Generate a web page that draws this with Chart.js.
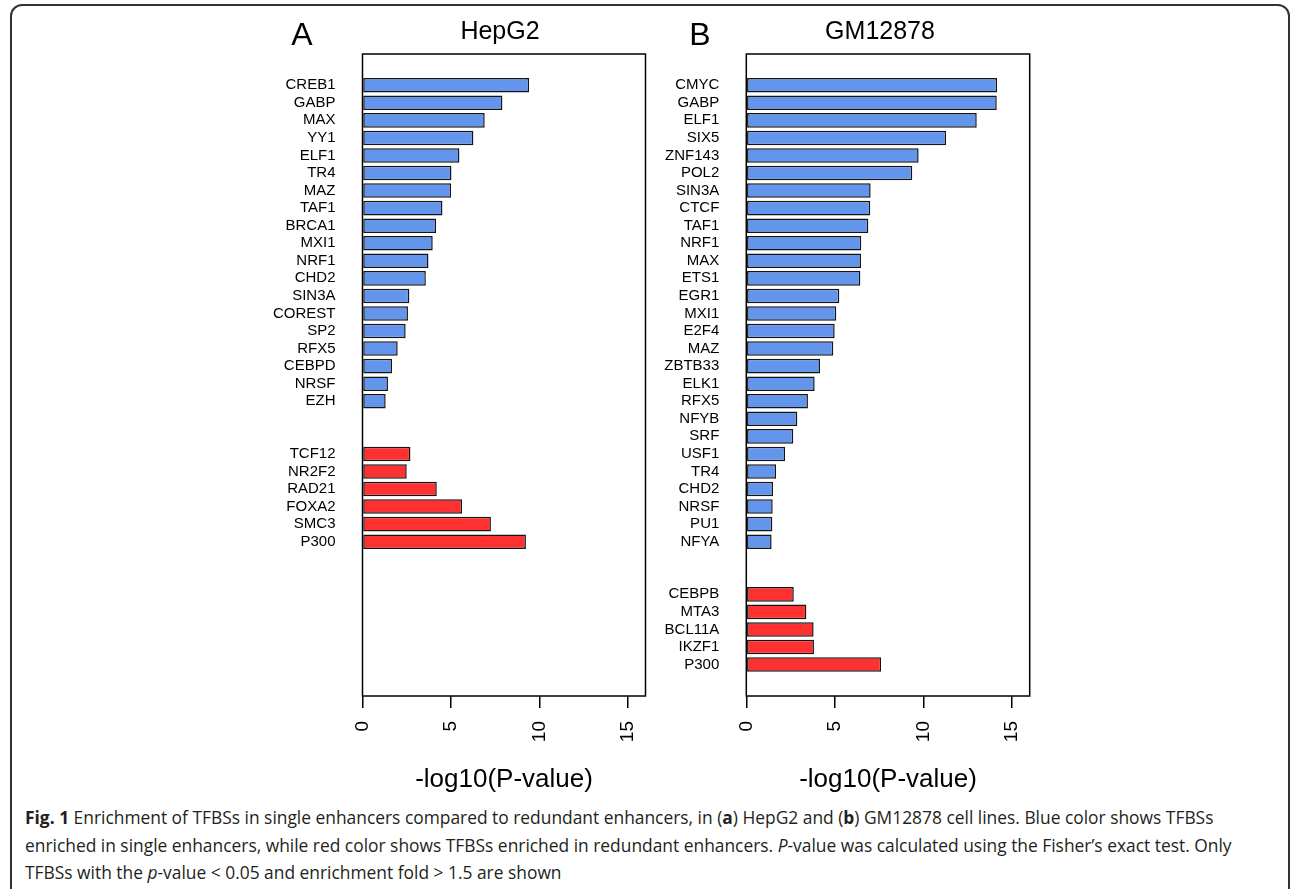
<!DOCTYPE html>
<html>
<head>
<meta charset="utf-8">
<script src="https://cdn.jsdelivr.net/npm/chart.js@4.4.1/dist/chart.umd.min.js"></script>
<style>
  body { margin: 0; background: #fff; width: 1290px; height: 889px; overflow: hidden; position: relative; }
  #frame { position: absolute; left: 10px; top: 4px; width: 1280px; height: 1000px; border: 2px solid #333; border-radius: 12px; box-sizing: border-box; }
  canvas { position: absolute; top: 0; }
  #cA { left: 200px; }
  #cB { left: 600px; }
  #caption { position: absolute; left: 25px; top: 804px; font-family: "Open Sans", sans-serif; font-size: 18px; line-height: 27.5px; color: #231f20; }
  #caption span.line { display: block; white-space: nowrap; transform-origin: 0 50%; }
</style>
</head>
<body>
<div id="frame"></div>
<canvas id="cA" width="460" height="800"></canvas>
<canvas id="cB" width="460" height="800"></canvas>
<div id="caption">
  <span class="line"><b>Fig. 1</b> Enrichment of TFBSs in single enhancers compared to redundant enhancers, in (<b>a</b>) HepG2 and (<b>b</b>) GM12878 cell lines. Blue color shows TFBSs</span>
  <span class="line">enriched in single enhancers, while red color shows TFBSs enriched in redundant enhancers. <i>P</i>-value was calculated using the Fisher’s exact test. Only</span>
  <span class="line">TFBSs with the <i>p</i>-value &lt; 0.05 and enrichment fold &gt; 1.5 are shown</span>
</div>
<script>
// HepG2 (panel A)
var hepg2SingleTF = ['CREB1', 'GABP', 'MAX', 'YY1', 'ELF1', 'TR4', 'MAZ', 'TAF1', 'BRCA1', 'MXI1',
  'NRF1', 'CHD2', 'SIN3A', 'COREST', 'SP2', 'RFX5', 'CEBPD', 'NRSF', 'EZH'];
var hepg2SingleP = [9.42, 7.91, 6.91, 6.27, 5.48, 5.03, 5.01, 4.52, 4.16, 3.97,
  3.73, 3.58, 2.65, 2.57, 2.44, 1.99, 1.67, 1.44, 1.31];
var hepg2RedundantTF = ['TCF12', 'NR2F2', 'RAD21', 'FOXA2', 'SMC3', 'P300'];
var hepg2RedundantP = [2.71, 2.50, 4.20, 5.63, 7.26, 9.24];

// GM12878 (panel B)
var gmSingleTF = ['CMYC', 'GABP', 'ELF1', 'SIX5', 'ZNF143', 'POL2', 'SIN3A', 'CTCF', 'TAF1', 'NRF1',
  'MAX', 'ETS1', 'EGR1', 'MXI1', 'E2F4', 'MAZ', 'ZBTB33', 'ELK1', 'RFX5', 'NFYB',
  'SRF', 'USF1', 'TR4', 'CHD2', 'NRSF', 'PU1', 'NFYA'];
var gmSingleP = [14.16, 14.14, 13.01, 11.28, 9.73, 9.37, 7.02, 7.00, 6.89, 6.49,
  6.48, 6.44, 5.25, 5.08, 4.99, 4.91, 4.16, 3.86, 3.48, 2.88,
  2.65, 2.19, 1.68, 1.51, 1.49, 1.47, 1.43];
var gmRedundantTF = ['CEBPB', 'MTA3', 'BCL11A', 'IKZF1', 'P300'];
var gmRedundantP = [2.68, 3.39, 3.80, 3.82, 7.61];

var xTicks = [0, 5, 10, 15];
var xTitle = '-log10(P-value)';

var blue = '#6495ED';
var red = '#FF3030';
var font = '"Liberation Sans", Arial, sans-serif';

// box around the plot region + panel letter and title
var boxPlugin = {
  id: 'rbox',
  afterDraw: function(chart) {
    var a = chart.chartArea, ctx = chart.ctx, o = chart.options.plugins.rbox;
    ctx.save();
    ctx.strokeStyle = '#000';
    ctx.lineWidth = 1.5;
    ctx.strokeRect(a.left, a.top, a.right - a.left, a.bottom - a.top);
    ctx.fillStyle = '#000';
    ctx.textBaseline = 'alphabetic';
    ctx.textAlign = 'center';
    ctx.font = '32px ' + font;
    ctx.fillText(o.letter, o.letterX, 45);
    ctx.font = '25px ' + font;
    ctx.fillText(o.title, o.titleX, 39);
    ctx.restore();
  }
};

function makePanel(id, singleTF, singleP, redTF, redP, yWidth, padRight, letter, letterX, title, titleX) {
  var names = {};
  var single = singleTF.map(function(n, i) { names[i] = n; return { x: singleP[i], y: i }; });
  var start = singleTF.length + 2;
  var redundant = redTF.map(function(n, j) { names[start + j] = n; return { x: redP[j], y: start + j }; });
  var positions = Object.keys(names).map(Number);

  new Chart(document.getElementById(id).getContext('2d'), {
    type: 'bar',
    data: {
      datasets: [
        { label: 'single', data: single, backgroundColor: blue },
        { label: 'redundant', data: redundant, backgroundColor: red }
      ]
    },
    options: {
      responsive: false,
      animation: false,
      indexAxis: 'y',
      layout: { padding: { left: 0, top: 54, right: padRight, bottom: 0 } },
      datasets: {
        bar: { grouped: false, barPercentage: 0.83, categoryPercentage: 1, borderColor: '#151515', borderWidth: 1.5, borderSkipped: false }
      },
      scales: {
        y: {
          type: 'linear',
          reverse: true,
          offset: false,
          min: -1.78,
          max: 34.79,
          grid: { display: false, drawTicks: false },
          border: { display: false },
          afterBuildTicks: function(scale) {
            scale.ticks = positions.map(function(v) { return { value: v }; });
          },
          afterFit: function(scale) {
            scale.width = yWidth;
            scale.paddingTop = 0;
            scale.paddingBottom = 0;
          },
          ticks: {
            autoSkip: false,
            padding: 27,
            color: '#000',
            font: { family: font, size: 15 },
            callback: function(v) { return names[v] || ''; }
          }
        },
        x: {
          type: 'linear',
          min: 0,
          max: 16,
          offset: false,
          grid: { display: true, drawOnChartArea: false, drawTicks: true, tickLength: 12, color: '#000', lineWidth: 1.5 },
          border: { display: false },
          afterBuildTicks: function(scale) {
            scale.ticks = xTicks.map(function(v) { return { value: v }; });
          },
          afterFit: function(scale) {
            scale.height = 104;
            scale.paddingLeft = 0;
            scale.paddingRight = 0;
          },
          ticks: {
            autoSkip: false,
            minRotation: 90,
            maxRotation: 90,
            padding: 13,
            color: '#000',
            font: { family: font, size: 19 }
          },
          title: {
            display: true,
            text: xTitle,
            color: '#000',
            font: { family: font, size: 26 },
            padding: { top: 0, bottom: 5 }
          }
        }
      },
      plugins: {
        legend: { display: false },
        tooltip: { enabled: false },
        rbox: { letter: letter, letterX: letterX, title: title, titleX: titleX }
      }
    },
    plugins: [boxPlugin]
  });
}

makePanel('cA', hepg2SingleTF, hepg2SingleP, hepg2RedundantTF, hepg2RedundantP, 162.5, 14.5, 'A', 302 - 200, 'HepG2', 500 - 200);
makePanel('cB', gmSingleTF, gmSingleP, gmRedundantTF, gmRedundantP, 146.3, 30.3, 'B', 700 - 600, 'GM12878', 880 - 600);

// squeeze caption lines to the printed width
var lines = document.querySelectorAll('#caption span.line');
var target = 1207;
var w0 = lines[0].scrollWidth;
var k = target / w0;
lines.forEach(function(el, i) {
  var s = i < 2 ? target / el.scrollWidth : k;
  el.style.transform = 'scaleX(' + s + ')';
});
</script>
</body>
</html>
